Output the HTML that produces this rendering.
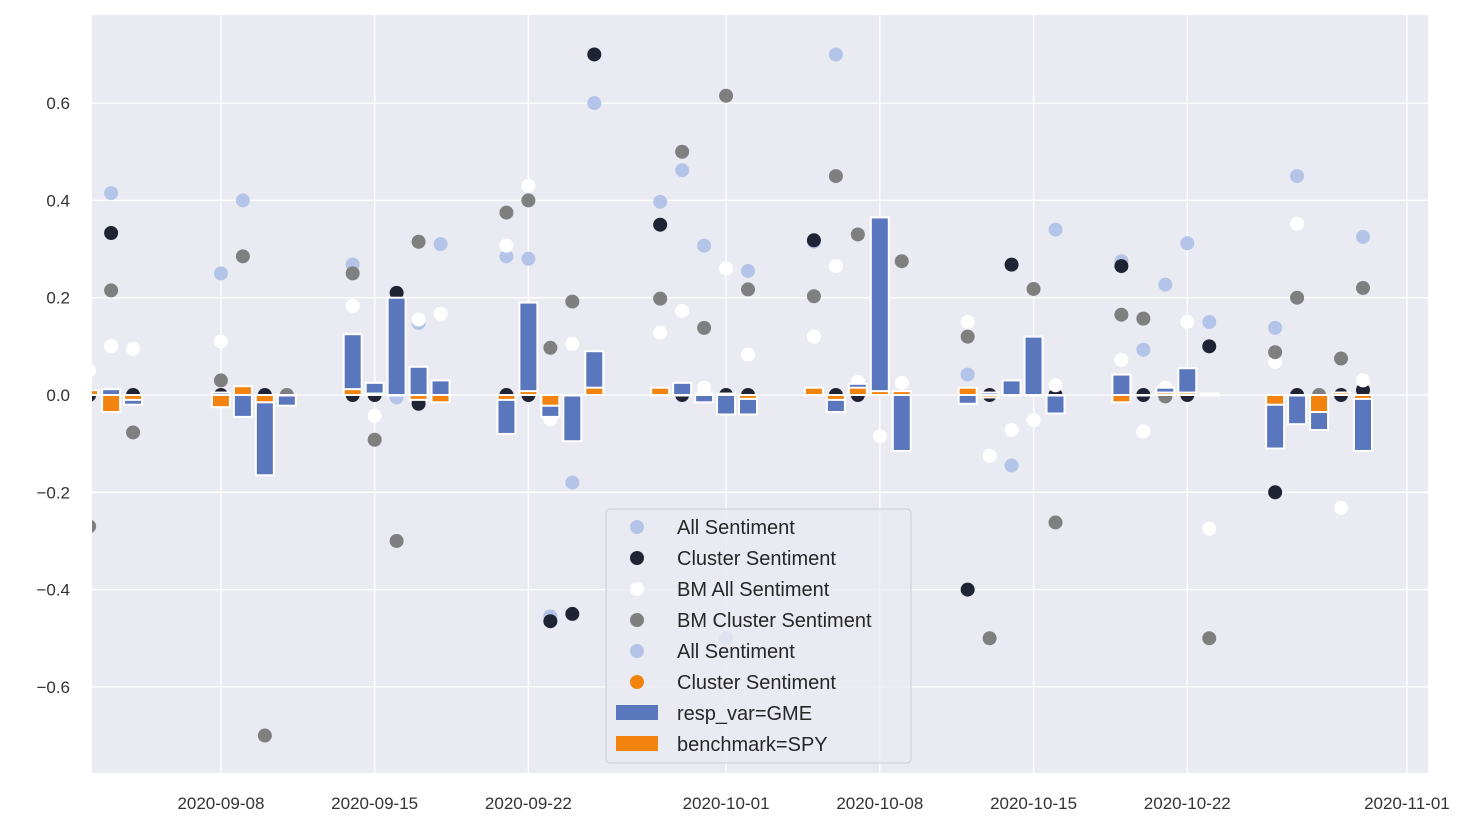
<!DOCTYPE html>
<html><head><meta charset="utf-8"><style>
body{margin:0;background:#fff;}
svg{display:block;font-family:"Liberation Sans",sans-serif;}
</style></head><body>
<svg id="chart" width="1481" height="828"></svg>
<script>
const dates=["2020-09-02","2020-09-03","2020-09-04","2020-09-08","2020-09-09","2020-09-10","2020-09-11","2020-09-14","2020-09-15","2020-09-16","2020-09-17","2020-09-18","2020-09-21","2020-09-22","2020-09-23","2020-09-24","2020-09-25","2020-09-28","2020-09-29","2020-09-30","2020-10-01","2020-10-02","2020-10-05","2020-10-06","2020-10-07","2020-10-08","2020-10-09","2020-10-12","2020-10-13","2020-10-14","2020-10-15","2020-10-16","2020-10-19","2020-10-20","2020-10-21","2020-10-22","2020-10-23","2020-10-26","2020-10-27","2020-10-28","2020-10-29","2020-10-30"];
const allSent=[null,0.415,null,0.25,0.4,null,null,0.268,null,-0.005,0.148,0.31,0.285,0.28,-0.455,-0.18,0.6,0.397,0.462,0.307,-0.5,0.255,0.315,0.7,null,null,null,0.042,null,-0.145,null,0.34,0.275,0.093,0.227,0.312,0.15,0.138,0.45,null,null,0.325];
const clusterSent=[0,0.333,0,0,null,0,null,0,0,0.21,-0.018,null,0,0,-0.465,-0.45,0.7,0.35,0,null,0,0,0.318,0,0,null,null,-0.4,0,0.268,null,0,0.265,0,null,0,0.1,-0.2,0,null,0,0.01];
const bmAllSent=[0.05,0.1,0.095,0.11,null,null,null,0.183,-0.043,null,0.155,0.167,0.307,0.43,-0.05,0.105,null,0.128,0.173,0.015,0.26,0.083,0.12,0.265,0.027,-0.085,0.025,0.15,-0.125,-0.072,-0.052,0.02,0.072,-0.075,0.015,0.15,-0.275,0.068,0.352,null,-0.232,0.03];
const bmClusterSent=[-0.27,0.215,-0.077,0.03,0.285,-0.7,0,0.25,-0.092,-0.3,0.315,null,0.375,0.4,0.097,0.192,null,0.198,0.5,0.138,0.615,0.217,0.203,0.45,0.33,null,0.275,0.12,-0.5,null,0.218,-0.262,0.165,0.157,-0.003,null,-0.5,0.088,0.2,0,0.075,0.22];
const gme=[0.005,0.012,-0.02,0.005,-0.045,-0.165,-0.022,0.125,0.025,0.2,0.058,0.03,-0.08,0.19,-0.045,-0.095,0.09,0,0.025,-0.015,-0.04,-0.04,0,-0.035,0.023,0.365,-0.115,-0.018,0.005,0.03,0.12,-0.038,0.042,0,0.015,0.055,0.003,-0.11,-0.06,-0.072,0.005,-0.115];
const spy=[0.01,-0.035,-0.01,-0.025,0.018,-0.015,0,0.012,0.003,0,-0.01,-0.015,-0.01,0.008,-0.022,0,0.015,0.015,0,0.003,0.003,-0.008,0.015,-0.01,0.015,0.008,0.008,0.015,-0.005,0,0,0,-0.015,0,0.005,0.005,0,-0.02,0,-0.035,0.005,-0.008];
const yTicks=[-0.6,-0.4,-0.2,0,0.2,0.4,0.6];
const xTicks=["2020-09-08","2020-09-15","2020-09-22","2020-10-01","2020-10-08","2020-10-15","2020-10-22","2020-11-01"];

const NS="http://www.w3.org/2000/svg";
const svg=document.getElementById('chart');
const L=92,R=1428,T=15,B=773;
const base=Date.UTC(2020,8,8);
const dayOf=s=>{const p=s.split('-');return (Date.UTC(+p[0],+p[1]-1,+p[2])-base)/86400000;};
const xmin=-5.87,xmax=54.96;
const X=s=>L+(dayOf(s)-xmin)/(xmax-xmin)*(R-L);
const Y=v=>395-v*486.5;
function mk(tag,attrs,parent){const e=document.createElementNS(NS,tag);for(const k in attrs)e.setAttribute(k,attrs[k]);(parent||svg).appendChild(e);return e;}
const clip=mk('clipPath',{id:'plotclip'});mk('rect',{x:L,y:T,width:R-L,height:B-T},clip);
const bg=mk('rect',{x:L,y:T,width:R-L,height:B-T,fill:'#eaeaf2'});


yTicks.forEach(v=>{
  const g=mk('line',{x1:L,x2:R,y1:Y(v),y2:Y(v),stroke:'#fff','stroke-width':1.3});
  
  
  const t=mk('text',{x:70,y:Y(v)+6,'text-anchor':'end','font-size':17,fill:'#333'});
  t.textContent=(v<0?'\u2212':'')+Math.abs(v).toFixed(1);
  
  
});
xTicks.forEach(d=>{
  const x=X(d);
  const g=mk('line',{x1:x,x2:x,y1:T,y2:B,stroke:'#fff','stroke-width':1.3});
  
  
  const t=mk('text',{x:x,y:809,'text-anchor':'middle','font-size':17,fill:'#333'});
  t.textContent=d;
  
  
});
const plot=mk('g',{'clip-path':'url(#plotclip)'});


const series=[[allSent,'#b4c4e8','all-sentiment-point'],[clusterSent,'#1f2333','cluster-sentiment-point'],[bmAllSent,'#ffffff','bm-all-sentiment-point'],[bmClusterSent,'#7f7f7f','bm-cluster-sentiment-point']];
series.forEach(([arr,col,name])=>{
  arr.forEach((v,i)=>{
    if(v===null)return;
    const c=mk('circle',{cx:X(dates[i]),cy:Y(v),r:7,fill:col},plot);
    
    
  });
});
[[gme,'#5a76bc','gme-bar'],[spy,'#f2830f','spy-bar']].forEach(([arr,col,name])=>{
  arr.forEach((v,i)=>{
    const x=X(dates[i]);const y0=Y(0),y1=Y(v);
    const r=mk('rect',{x:x-9,y:Math.min(y0,y1),width:18,height:Math.max(Math.abs(y1-y0),0.5),fill:col,stroke:'#fff','stroke-width':2},plot);
    
    
  });
});
// legend
const lg=mk('g',{});


mk('rect',{x:606,y:509,width:305,height:254,rx:4,fill:'#eaeaf2','fill-opacity':0.8,stroke:'#ccc'},lg);
const entries=[['All Sentiment','#b4c4e8','dot'],['Cluster Sentiment','#1f2333','dot'],['BM All Sentiment','#ffffff','dot'],['BM Cluster Sentiment','#7f7f7f','dot'],['All Sentiment','#b4c4e8','dot'],['Cluster Sentiment','#f2830f','dot'],['resp_var=GME','#5a76bc','bar'],['benchmark=SPY','#f2830f','bar']];
entries.forEach(([lab,col,kind],i)=>{
  const y=527+i*31;
  if(kind==='dot') mk('circle',{cx:637,cy:y,r:7,fill:col},lg);
  else mk('rect',{x:616,y:y-8,width:42,height:15,fill:col},lg);
  const t=mk('text',{x:677,y:y+7,'font-size':20,fill:'#262626'},lg);
  t.textContent=lab;
  
  
});
</script>
</body></html>
